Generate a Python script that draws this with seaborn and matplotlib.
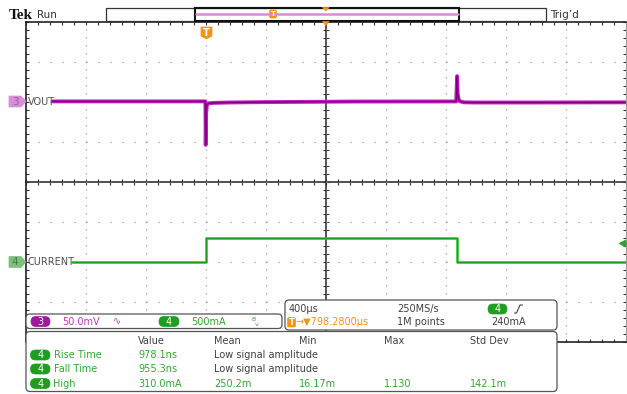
"""
Tek scope capture: VOUT (ch3) response to a load step on CURRENT (ch4).
"""
import numpy as np
import pandas as pd
import seaborn as sns
import matplotlib.pyplot as plt
from matplotlib.patches import FancyBboxPatch, Polygon, Rectangle
from matplotlib.ticker import MultipleLocator

# time relative to the trigger, in us (400 us/div, trigger 2 div left of centre)
vout_t = [-1020, -500, -2, 0, 3, 8, 20, 50, 150, 400, 1000, 1670, 1676, 1680, 1686, 1695, 1720, 1800, 2200, 2800]
vout_mv = [0.4, 0.4, 0.4, -54, -15, -4, -2, -1.5, -1, -0.5, 0.2, 0.3, 32, 10, 3, 0.5, -0.8, -1.0, -1.0, -0.8]

cur_t = [-888, 0, 0, 1675, 1675, 2800]
cur_ma = [0, 0, 300, 300, 0, 0]

trig_level_ma = 240

# measurement table
meas_cols = ["Value", "Mean", "Min", "Max", "Std Dev"]
meas_names = ["Rise Time", "Fall Time", "High"]
meas_vals = [["978.1ns", "Low signal amplitude", "", "", ""],
             ["955.3ns", "Low signal amplitude", "", "", ""],
             ["310.0mA", "250.2m", "16.17m", "1.130", "142.1m"]]

DARK = '#404040'
MAG = '#C03CC0'
GRN = '#2EAA2E'
ORG = '#F39414'

sns.set_theme(style="white")
plt.rcParams['font.family'] = ['DejaVu Sans']

fig = plt.figure(figsize=(6.27, 3.94), dpi=100)
ax = fig.add_axes([25.7/627, 1-341.7/394, 600/627, 320/394])
ax2 = ax.twinx()

vout_df = pd.DataFrame({"t": vout_t, "mv": vout_mv})
cur_df = pd.DataFrame({"t": cur_t, "ma": cur_ma})

sns.lineplot(data=vout_df, x="t", y="mv", ax=ax, color='#C81EC8', lw=2.8,
             estimator=None, sort=False, legend=False)
sns.lineplot(data=vout_df, x="t", y="mv", ax=ax, color='#800080', lw=1.1,
             estimator=None, sort=False, legend=False)
sns.lineplot(data=cur_df, x="t", y="ma", ax=ax2, color='#34C234', lw=1.9,
             estimator=None, sort=False, legend=False)
sns.lineplot(data=cur_df, x="t", y="ma", ax=ax2, color='#1C9C1C', lw=0.7,
             estimator=None, sort=False, legend=False)

# 50 mV/div with ch3 ground 2 div above centre, 500 mA/div with ch4 ground 2 div below
ax.set_xlim(-1200, 2800)
ax.set_ylim(-300, 100)
ax2.set_ylim(-1000, 3000)
for a in (ax, ax2):
    a.set_xlabel('')
    a.set_ylabel('')

ax.set_xticks(np.arange(-1200, 2801, 400))
ax.set_yticks(np.arange(-300, 101, 50))
ax.xaxis.set_minor_locator(MultipleLocator(80))
ax.yaxis.set_minor_locator(MultipleLocator(10))
ax.tick_params(which='both', direction='in', length=2.5, width=0.8, color='#333',
               top=True, right=True, bottom=True, left=True,
               labelbottom=False, labelleft=False)
ax.xaxis.grid(True, ls=(0, (1, 6.2)), lw=0.8, color='#8a8a8a')
ax.yaxis.grid(True, ls=(0, (1, 9.8)), lw=0.8, color='#8a8a8a')
for s in ['left', 'top', 'bottom']:
    ax.spines[s].set_color('#222')
    ax.spines[s].set_linewidth(1.2)
ax.spines['right'].set_color('#999')
ax.spines['right'].set_linewidth(0.8)

ax2.set_yticks([])
ax2.tick_params(right=False, labelright=False)
for s in ax2.spines.values():
    s.set_visible(False)

# centre crosshair with minor ticks
secx = ax.secondary_xaxis(0.5)
secx.set_xticks(np.arange(-1200, 2801, 400))
secx.xaxis.set_minor_locator(MultipleLocator(80))
secx.tick_params(which='both', direction='inout', length=5, width=0.8, color='#333',
                 labeltop=False, labelbottom=False)
secy = ax.secondary_yaxis(0.5)
secy.set_yticks(np.arange(-300, 101, 50))
secy.yaxis.set_minor_locator(MultipleLocator(10))
secy.tick_params(which='both', direction='inout', length=5, width=0.8, color='#333',
                 labelleft=False, labelright=False)
for sa in (secx, secy):
    for s in sa.spines.values():
        s.set_color('#222')
        s.set_linewidth(1.1)

# trigger level arrow on the right edge
yt = ax2.get_yaxis_transform()
ax2.plot([0.994], [trig_level_ma], marker='<', ms=4.5, color='#22AA22', transform=yt, clip_on=False)
ax2.plot([0.994, 1.0], [trig_level_ma, trig_level_ma], color='#22AA22', lw=1, transform=yt, clip_on=False)

# ---- overlay in pixel coordinates for the scope's UI furniture ----
ov = fig.add_axes([0, 0, 1, 1])
ov.set_zorder(10)
ov.set_xlim(0, 627)
ov.set_ylim(394, 0)
ov.axis('off')
ov.patch.set_visible(False)

def box(x, y, w, h, fc='white', ec='#555', lw=0.9, r=4):
    ov.add_patch(FancyBboxPatch((x, y), w, h, boxstyle=f"round,pad=0,rounding_size={r}",
                                fc=fc, ec=ec, lw=lw))

def pill(x, y, w, h, fc, txt):
    box(x, y, w, h, fc=fc, ec=fc, lw=0.5, r=h/2)
    ov.text(x + w/2, y + h/2 + 0.3, txt, color='white', fontsize=7, ha='center', va='center')

# header
ov.text(8.5, 15, "Tek", fontsize=11, fontweight='bold', family='Liberation Serif', va='center', color='#111')
ov.text(37, 14.5, "Run", fontsize=7.5, va='center', color='#333')
ov.text(550, 14.5, "Trig\u2019d", fontsize=7.5, va='center', color='#333')
ov.add_patch(Rectangle((106, 8.3), 440, 12.4, fc='white', ec='#333', lw=0.9))
ov.add_patch(Rectangle((195, 8.3), 264, 12.4, fc='none', ec='#111', lw=1.5))
ov.plot([196, 458], [13.8, 13.8], color='#D98AD9', lw=1.8)
ov.add_patch(FancyBboxPatch((269.5, 10), 7, 8, boxstyle="round,pad=0,rounding_size=1.5", fc=ORG, ec=ORG, lw=0.5))
ov.text(273, 14.3, "T", color='white', fontsize=5, ha='center', va='center', fontweight='bold')
ov.add_patch(Polygon([(322.5, 7.5), (329, 7.5), (325.7, 11)], fc=ORG, ec=ORG, lw=0.5))
ov.add_patch(Polygon([(322.5, 21.5), (329, 21.5), (325.7, 25.5)], fc=ORG, ec=ORG, lw=0.5))

# trigger position marker
ov.add_patch(Polygon([(201, 27), (212, 27), (212, 36), (206.5, 39), (201, 36)], fc=ORG, ec=ORG, lw=0.5))
ov.text(206.5, 32.5, "T", color='white', fontsize=7, ha='center', va='center', fontweight='bold')

# channel markers + labels
def ch_marker(y, fc, tc, num, label, lab_x):
    ov.add_patch(Polygon([(9, y-5.5), (21, y-5.5), (26, y), (21, y+5.5), (9, y+5.5)], fc=fc, ec=fc, lw=0.5))
    ov.text(15, y + 0.3, num, color=tc, fontsize=7.5, ha='center', va='center')
    ov.text(lab_x, y + 0.3, label, color='#505050', fontsize=7, va='center')

ch_marker(101.5, '#DA8EDA', '#8A6A8A', "3", "VOUT", 27.5)
ch_marker(262, '#7CC07C', '#4A7A4A', "4", "CURRENT", 27.5)

# channel scale box
box(26, 314, 256, 14.5)
pill(31, 316.5, 19, 10, '#9B1B9B', "3")
ov.text(62.5, 321.7, "50.0mV", color=MAG, fontsize=7, va='center')
ov.text(113, 321.3, "\u223f", color=MAG, fontsize=7, va='center')
pill(159, 316.5, 20, 10, '#1E9E1E', "4")
ov.text(191, 321.7, "500mA", color=GRN, fontsize=7, va='center')
ov.text(251, 319.5, "B", color=GRN, fontsize=4.5, va='center')
ov.text(254.5, 324, "v", color=GRN, fontsize=4.5, va='center')

# horizontal / acquisition box
box(285, 300, 272, 30)
ov.text(289, 309.3, "400\u00b5s", color=DARK, fontsize=7, va='center')
ov.text(397, 309.3, "250MS/s", color=DARK, fontsize=7, va='center')
ov.text(397, 322.3, "1M points", color=DARK, fontsize=7, va='center')
pill(488, 304, 19, 10, '#1E9E1E', "4")
ov.plot([514.5, 516.5, 520, 522.5], [313, 313, 305, 305], color=DARK, lw=0.8)
ov.text(491, 322.3, "240mA", color=DARK, fontsize=7, va='center')
ov.add_patch(FancyBboxPatch((287.5, 317.5), 8, 9.5, boxstyle="round,pad=0,rounding_size=1.5", fc=ORG, ec=ORG, lw=0.5))
ov.text(291.5, 322.3, "T", color='white', fontsize=6, ha='center', va='center', fontweight='bold')
ov.text(296, 322.3, "\u2192\u25bc798.2800\u00b5s", color=ORG, fontsize=7, va='center')

# measurement box
box(26, 331.5, 531, 60)
col_x = [138, 214, 299, 384, 470]
for cx, c in zip(col_x, meas_cols):
    ov.text(cx, 340.7, c, color=DARK, fontsize=7, va='center')
row_y = [355, 369, 383.5]
for ry, name, vals in zip(row_y, meas_names, meas_vals):
    pill(30.5, ry - 5, 19.5, 10, '#1E9E1E', "4")
    ov.text(53.5, ry + 0.2, name, color=GRN, fontsize=7, va='center')
    for j, (cx, v) in enumerate(zip(col_x, vals)):
        col = DARK if v.startswith("Low") else GRN
        ov.text(cx, ry + 0.2, v, color=col, fontsize=7, va='center')

fig.savefig("out.png", dpi=100)
